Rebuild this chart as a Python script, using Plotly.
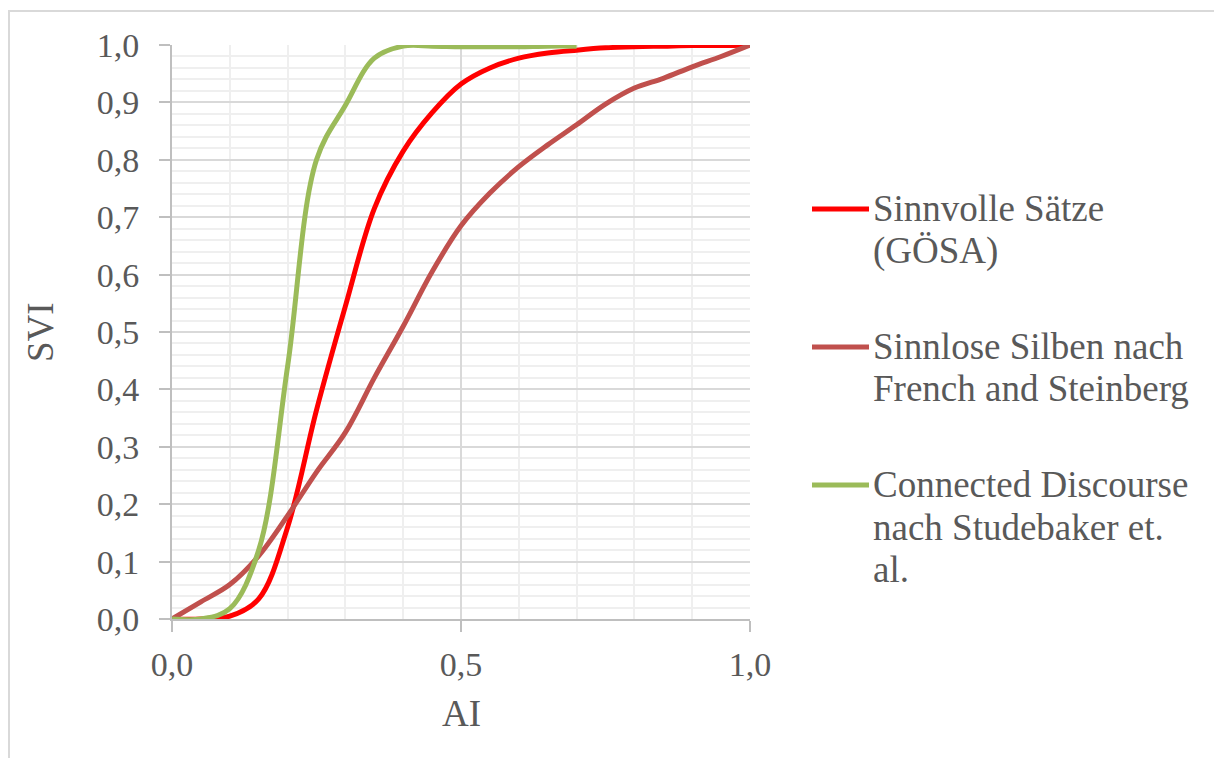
import plotly.graph_objects as go

# ---- data ----
x_red = [0.0, 0.05, 0.10, 0.15, 0.20, 0.25, 0.30, 0.35, 0.40, 0.45, 0.50, 0.55, 0.60, 0.65, 0.70, 0.75, 0.80, 0.85, 0.90, 0.95, 1.00]
y_red = [0.0, 0.0, 0.005, 0.035, 0.16, 0.364, 0.545, 0.715, 0.815, 0.882, 0.932, 0.960, 0.977, 0.986, 0.991, 0.995, 0.997, 0.998, 0.999, 0.999, 1.0]

x_brown = [0.0, 0.05, 0.10, 0.15, 0.20, 0.25, 0.30, 0.35, 0.40, 0.45, 0.50, 0.55, 0.60, 0.65, 0.70, 0.75, 0.80, 0.85, 0.90, 0.95, 1.00]
y_brown = [0.0, 0.03, 0.06, 0.11, 0.18, 0.256, 0.325, 0.42, 0.51, 0.605, 0.685, 0.742, 0.788, 0.826, 0.861, 0.897, 0.925, 0.942, 0.962, 0.98, 1.0]

x_green = [0.0, 0.05, 0.10, 0.15, 0.20, 0.25, 0.30, 0.35, 0.40, 0.45, 0.50, 0.55, 0.60, 0.65, 0.70]
y_green = [0.0, 0.0, 0.018, 0.12, 0.44, 0.80, 0.895, 0.977, 0.998, 0.998, 0.997, 0.997, 0.997, 0.998, 0.998]

series_names = [
    ["Sinnvolle Sätze", "(GÖSA)"],
    ["Sinnlose Silben nach", "French and Steinberg"],
    ["Connected Discourse", "nach Studebaker et.", "al."],
]
colors = ["#FF0000", "#C0504D", "#9BBB59"]

x_ticks = [0.0, 0.5, 1.0]
x_ticklabels = ["0,0", "0,5", "1,0"]
y_ticks = [0.0, 0.1, 0.2, 0.3, 0.4, 0.5, 0.6, 0.7, 0.8, 0.9, 1.0]
y_ticklabels = ["0,0", "0,1", "0,2", "0,3", "0,4", "0,5", "0,6", "0,7", "0,8", "0,9", "1,0"]

# ---- layout geometry (pixels) ----
W, H = 1214, 758
PL, PR, PT, PB = 172, 750, 45, 619
FONT = "Liberation Serif, Times New Roman, serif"
TXT = "#595959"


def px(xp):
    return (xp - PL) / (PR - PL)


def py(yp):
    return (PB - yp) / (PB - PT)


fig = go.Figure()
for xs, ys, nm, c in [(x_red, y_red, series_names[0], colors[0]),
                      (x_brown, y_brown, series_names[1], colors[1]),
                      (x_green, y_green, series_names[2], colors[2])]:
    fig.add_trace(go.Scatter(x=xs, y=ys, mode="lines", name=" ".join(nm),
                             line=dict(color=c, width=5, shape="spline", smoothing=1.0),
                             showlegend=False, cliponaxis=False))

fig.update_layout(
    width=W, height=H, autosize=False,
    margin=dict(l=PL, r=W - PR, t=PT, b=H - PB),
    paper_bgcolor="white", plot_bgcolor="white",
    font=dict(family=FONT, color=TXT, size=35),
    showlegend=False,
)

fig.update_xaxes(
    range=[0, 1], tickvals=x_ticks, ticktext=x_ticklabels,
    showgrid=True, gridcolor="#d9d9d9", gridwidth=1.5,
    minor=dict(dtick=0.1, tick0=0, showgrid=True, gridcolor="#efefef", gridwidth=1.5, ticks=""),
    showline=True, linecolor="#bfbfbf", linewidth=2,
    ticks="outside", ticklen=11, tickcolor="#bfbfbf", tickwidth=1.5,
    tickfont=dict(family=FONT, size=34, color=TXT),
    ticklabelstandoff=3,
    zeroline=False, fixedrange=True,
)
fig.update_yaxes(
    range=[0, 1], tickvals=y_ticks, ticktext=y_ticklabels,
    showgrid=True, gridcolor="#d9d9d9", gridwidth=1.5,
    minor=dict(dtick=0.02, tick0=0, showgrid=True, gridcolor="#efefef", gridwidth=1.5, ticks=""),
    showline=True, linecolor="#bfbfbf", linewidth=2,
    ticks="outside", ticklen=11, tickcolor="#bfbfbf", tickwidth=1.5,
    tickfont=dict(family=FONT, size=34, color=TXT),
    ticklabelstandoff=13,
    zeroline=False, fixedrange=True,
)

annotations = []
# axis titles
annotations.append(dict(text="AI", x=px(461), y=py(713), xref="paper", yref="paper",
                        xanchor="center", yanchor="middle", showarrow=False,
                        font=dict(family=FONT, size=37, color=TXT)))
annotations.append(dict(text="SVI", x=px(40), y=py(332), xref="paper", yref="paper",
                        xanchor="center", yanchor="middle", showarrow=False, textangle=-90,
                        font=dict(family=FONT, size=37, color=TXT)))

# legend (text lines + key lines)
line_centers = [[208, 250.5], [346, 388.5], [484, 527, 569.5]]
shapes = []
for names, centers, c in zip(series_names, line_centers, colors):
    for t, yc in zip(names, centers):
        annotations.append(dict(text=t, x=px(871), y=py(yc), xref="paper", yref="paper",
                                xanchor="left", yanchor="middle", showarrow=False,
                                font=dict(family=FONT, size=37, color=TXT)))
    shapes.append(dict(type="line", xref="paper", yref="paper",
                       x0=px(812), x1=px(869), y0=py(centers[0] + 1), y1=py(centers[0] + 1),
                       line=dict(color=c, width=5)))

# outer chart border (partially off-page, as in reference)
shapes.append(dict(type="rect", xref="paper", yref="paper",
                   x0=px(9), x1=px(1240), y0=py(780), y1=py(11),
                   line=dict(color="#d9d9d9", width=2), fillcolor="rgba(0,0,0,0)", layer="below"))

fig.update_layout(annotations=annotations, shapes=shapes)

fig.write_html("out.html")
